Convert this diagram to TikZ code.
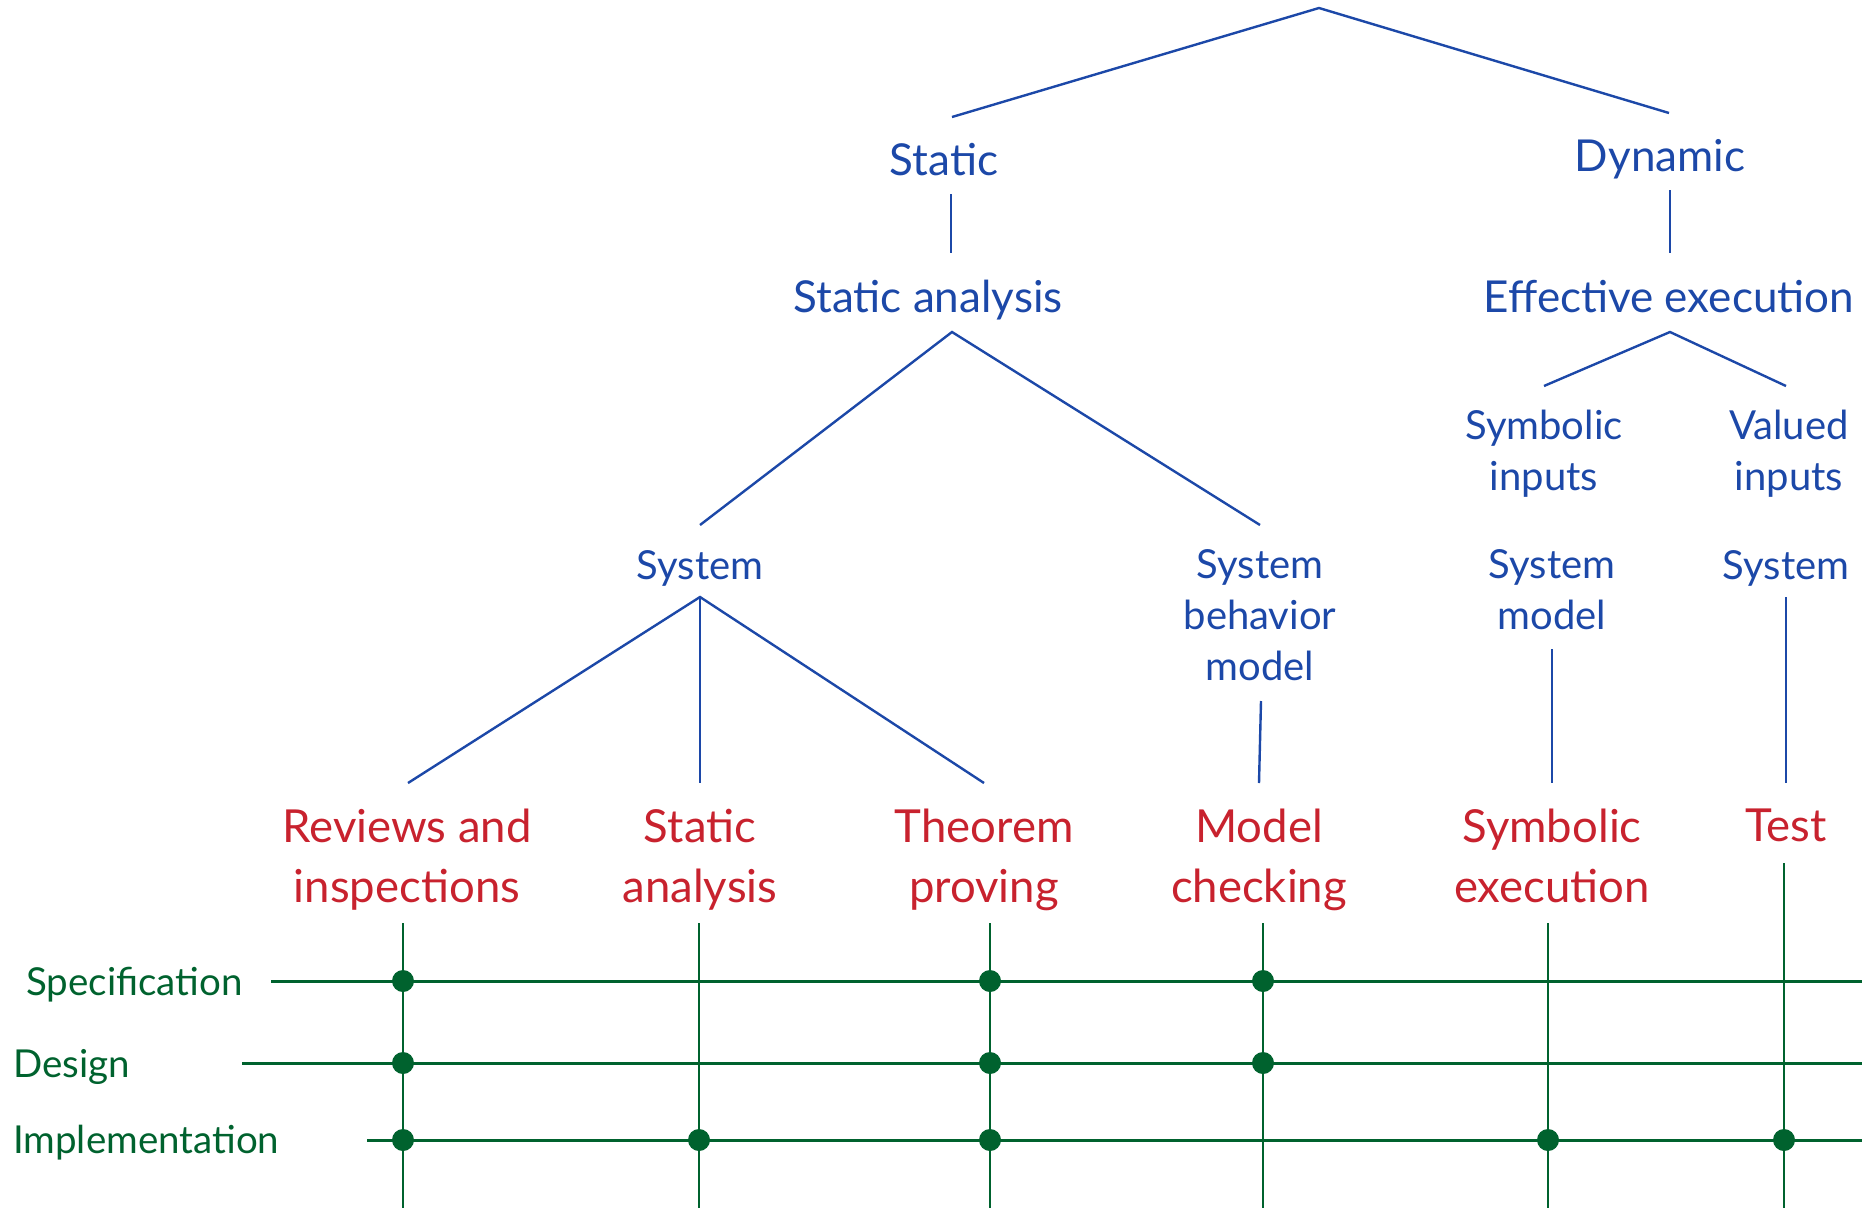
\documentclass[tikz,border=0pt]{standalone}
\usepackage{fontspec}
\setmainfont{Lato}
\usetikzlibrary{calc}
\definecolor{treeblue}{RGB}{28,72,168}
\definecolor{methred}{RGB}{200,34,46}
\definecolor{phasegreen}{RGB}{0,98,46}

\begin{document}
\begin{tikzpicture}[x=1pt,y=-1pt,
  branch/.style={draw=treeblue,line width=2.4pt},
  cat/.style={text=treeblue,font=\fontsize{44}{52}\selectfont,inner sep=0pt,align=center},
  sub/.style={text=treeblue,font=\fontsize{40}{51}\selectfont,inner sep=0pt,align=center},
  meth/.style={text=methred,font=\fontsize{45.5}{60}\selectfont,inner sep=0pt,align=center,anchor=north},
  phase/.style={text=phasegreen,font=\fontsize{38.5}{46}\selectfont,inner sep=0pt,anchor=west},
  lane/.style={draw=phasegreen,line width=2.2pt},
  level/.style={draw=phasegreen,line width=3pt},
  hit/.style={fill=phasegreen,circle,inner sep=0pt,minimum size=22pt}
]
\useasboundingbox (0,0) rectangle (1866,1208);

% ---- classification tree ----
\coordinate (top) at (1319,8);
\node[cat] (st) at (944,160) {Static};
\node[cat] (dy) at (1660,159) {Dynamic};
\node[cat] (sa) at (928,300) {Static analysis};
\node[cat] (ee) at (1669,297) {Effective execution};
\node[sub] (si) at (1544,454) {Symbolic\\inputs};
\node[sub] (vi) at (1789,454) {Valued\\inputs};
\node[sub] (sys) at (700,568) {System};
\node[sub] (sbm) at (1260,615) {System\\behavior\\model};
\node[sub] (sm) at (1552,590) {System\\model};
\node[sub] (vsys) at (1786,568) {System};

% ---- verification methods ----
\node[meth] (rev) at (407,809) {Reviews and\\inspections};
\node[meth] (san) at (700,809) {Static\\analysis};
\node[meth] (thp) at (984,809) {Theorem\\proving};
\node[meth] (mch) at (1259,809) {Model\\checking};
\node[meth] (sex) at (1552,809) {Symbolic\\execution};
\node[meth] (tst) at (1786,809) {Test};

% ---- tree branches ----
\draw[branch] ([shift={(8,-43)}]st.center) -- (top) -- ([shift={(9,-46)}]dy.center);
\draw[branch] ([shift={(7,34)}]st.center) -- ([shift={(23,-47)}]sa.center);
\draw[branch] ([shift={(10,31)}]dy.center) -- ([shift={(1,-44)}]ee.center);
\draw[branch] ([shift={(0,-43)}]sys.center) -- ([shift={(24,32)}]sa.center) -- ([shift={(0,-90)}]sbm.center);
\draw[branch] ([shift={(0,-68)}]si.center) -- ([shift={(1,35)}]ee.center) -- ([shift={(-3,-68)}]vi.center);
\draw[branch] ([shift={(1,-26)}]rev.north) -- ([shift={(0,29)}]sys.center) -- ([shift={(0,-26)}]thp.north);
\draw[branch] ([shift={(0,29)}]sys.center) -- ([shift={(0,-26)}]san.north);
\draw[branch] ([shift={(1,86)}]sbm.center) -- ([shift={(0,-26)}]mch.north);
\draw[branch] ([shift={(0,59)}]sm.center) -- ([shift={(0,-26)}]sex.north);
\draw[branch] ([shift={(0,29)}]vsys.center) -- ([shift={(0,-26)}]tst.north);

% ---- development phases ----
\node[phase] (pspec) at (26,985) {Specification};
\node[phase] (pdes) at (13,1067) {Design};
\node[phase] (pimp) at (13,1143) {Implementation};

\coordinate (Sp) at (271,981);
\coordinate (De) at (242,1063);
\coordinate (Im) at (367,1140);
\coordinate (rim) at (1862,0);
\coordinate (bot) at (0,1208);

\coordinate (L1) at ([shift={(-4,114)}]rev.north);
\coordinate (L2) at ([shift={(-1,114)}]san.north);
\coordinate (L3) at ([shift={(6,114)}]thp.north);
\coordinate (L4) at ([shift={(4,114)}]mch.north);
\coordinate (L5) at ([shift={(-4,114)}]sex.north);
\coordinate (L6) at ([shift={(-2,54)}]tst.north);

\foreach \l in {L1,L2,L3,L4,L5,L6}
  \draw[lane] (\l) -- (\l |- bot);
\foreach \p in {Sp,De,Im}
  \draw[level] (\p) -- (\p -| rim);

% ---- applicability marks ----
\foreach \l in {L1,L3,L4} {
  \node[hit] at (\l |- Sp) {};
  \node[hit] at (\l |- De) {};
}
\foreach \l in {L1,L2,L3,L5,L6}
  \node[hit] at (\l |- Im) {};
\end{tikzpicture}
\end{document}
